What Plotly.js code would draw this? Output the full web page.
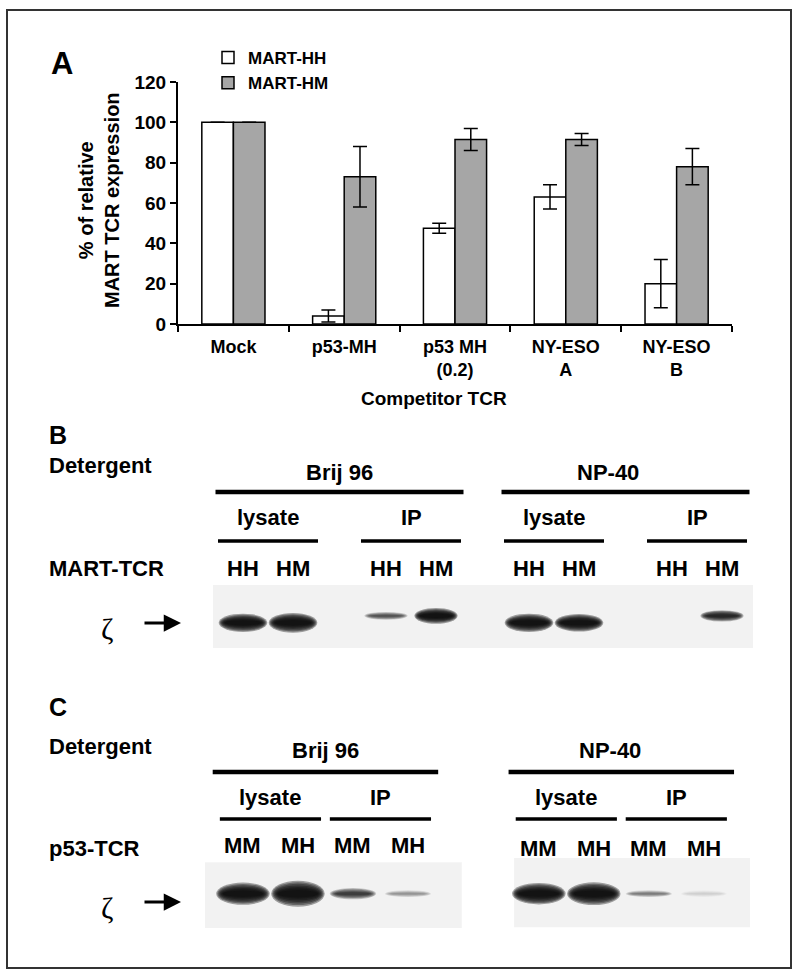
<!DOCTYPE html>
<html>
<head>
<meta charset="utf-8">
<script src="https://cdn.plot.ly/plotly-3.0.1.min.js"></script>
<style>html,body{margin:0;padding:0;background:#fff;}#chart{width:800px;height:974px;}</style>
</head>
<body>
<div id="chart"></div>
<script>
// ---------- Panel A data ----------
const categories = ['Mock', 'p53-MH', 'p53 MH<br>(0.2)', 'NY-ESO<br>A', 'NY-ESO<br>B'];
const martHH = [100, 4, 47.5, 63, 20];
const martHHErr = [0, 3, 2.5, 6, 12];
const martHM = [100, 73, 91.5, 91.5, 78];
const martHMErr = [0, 15, 5.5, 3, 9];
const seriesNames = ['MART-HH', 'MART-HM'];

// ---------- Panel B (MART-TCR blot) data ----------
const bDetergent = ['Brij 96', 'Brij 96', 'Brij 96', 'Brij 96', 'NP-40', 'NP-40', 'NP-40', 'NP-40'];
const bFraction = ['lysate', 'lysate', 'IP', 'IP', 'lysate', 'lysate', 'IP', 'IP'];
const bLanes = ['HH', 'HM', 'HH', 'HM', 'HH', 'HM', 'HH', 'HM'];
const bSignal = [0.92, 0.96, 0.55, 0.85, 0.92, 0.9, 0, 0.7];

// ---------- Panel C (p53-TCR blot) data ----------
const cDetergent = ['Brij 96', 'Brij 96', 'Brij 96', 'Brij 96', 'NP-40', 'NP-40', 'NP-40', 'NP-40'];
const cFraction = ['lysate', 'lysate', 'IP', 'IP', 'lysate', 'lysate', 'IP', 'IP'];
const cLanes = ['MM', 'MH', 'MM', 'MH', 'MM', 'MH', 'MM', 'MH'];
const cSignal = [0.92, 1.0, 0.62, 0.32, 0.9, 0.93, 0.4, 0.1];

// ---------- helpers ----------
const W = 800, H = 974;
const px = v => v / W;
const py = v => 1 - v / H;
const SANS = 'Liberation Sans, Arial, Helvetica, sans-serif';
const bold = (size) => ({family: SANS, size: size, color: '#000', weight: 'bold'});

const traces = [
  {
    type: 'bar', name: seriesNames[0], x: categories, y: martHH,
    marker: {color: '#ffffff', line: {color: '#000', width: 1.5}},
    error_y: {type: 'data', array: martHHErr, visible: true, color: '#000', thickness: 1.5, width: 7},
    xaxis: 'x', yaxis: 'y'
  },
  {
    type: 'bar', name: seriesNames[1], x: categories, y: martHM,
    marker: {color: '#a6a6a6', line: {color: '#000', width: 1.5}},
    error_y: {type: 'data', array: martHMErr, visible: true, color: '#000', thickness: 1.5, width: 7},
    xaxis: 'x', yaxis: 'y'
  }
];

const shapes = [];
const annotations = [];

// outer frame
shapes.push({type: 'rect', xref: 'paper', yref: 'paper', x0: px(7), x1: px(791), y0: py(968), y1: py(10),
  line: {color: '#333', width: 2}, fillcolor: 'rgba(0,0,0,0)', layer: 'below'});

// Panel letters
annotations.push({xref: 'paper', yref: 'paper', x: px(62), y: py(64), text: 'A', showarrow: false, font: bold(31), xanchor: 'center', yanchor: 'middle'});
annotations.push({xref: 'paper', yref: 'paper', x: px(58), y: py(435), text: 'B', showarrow: false, font: bold(25), xanchor: 'center', yanchor: 'middle'});
annotations.push({xref: 'paper', yref: 'paper', x: px(58), y: py(707), text: 'C', showarrow: false, font: bold(25), xanchor: 'center', yanchor: 'middle'});

// Panel A axis titles
annotations.push({xref: 'paper', yref: 'paper', x: px(99), y: py(200), textangle: -90,
  text: '% of relative<br>MART TCR expression', showarrow: false, font: bold(20),
  xanchor: 'center', yanchor: 'middle'});
annotations.push({xref: 'paper', yref: 'paper', x: px(434), y: py(398), text: 'Competitor TCR',
  showarrow: false, font: bold(19), xanchor: 'center', yanchor: 'middle'});

// ---------- blot drawing ----------
function laneXs(n, groupGap) {
  const xs = [];
  let x = 0;
  for (let i = 0; i < n; i++) {
    if (i > 0) x += 1 + groupGap(i);
    xs.push(x);
  }
  return xs;
}

function drawBlot(cfg) {
  const {xref, yref, xs, signal, fracs, dets, lanes, rowY, bandW, T, pxY, txt} = cfg;
  const N = 7;
  for (let i = 0; i < xs.length; i++) {
    const s = signal[i];
    if (s <= 0) continue;
    const D = Math.min(0.96, 1.25 * s);          // target darkness at band centre
    const thPx = Math.max(4, T * s * s);
    const yc = rowY(fracs[i]);
    const w = bandW(fracs[i]);
    const al = 1 - Math.pow(1 - D, 1 / N);
    for (let k = 0; k < N; k++) {
      const t = k / (N - 1);
      const kw = 1.08 - 0.28 * t;
      const th = (thPx * 1.2 + 2) * (1 - t) + thPx * 0.35 * t;
      const hw = w * kw / 2, hh = (th / pxY) / 2;
      shapes.push({type: 'circle', xref: xref, yref: yref,
        x0: xs[i] - hw, x1: xs[i] + hw, y0: yc - hh, y1: yc + hh,
        fillcolor: 'rgba(12,12,12,' + al.toFixed(3) + ')', line: {width: 0}});
    }
  }
  const uniq = arr => arr.filter((v, i) => arr.indexOf(v) === i);
  uniq(dets).forEach(d => {
    const idx = dets.map((v, i) => v === d ? i : -1).filter(i => i >= 0);
    const lo = Math.min(...idx.map(i => xs[i])), hi = Math.max(...idx.map(i => xs[i]));
    annotations.push({xref: xref, yref: 'paper', x: (lo + hi) / 2 + (txt.detShift[d] || 0), y: py(txt.yDet),
      text: d, showarrow: false, font: bold(22), xanchor: 'center', yanchor: 'middle'});
    shapes.push({type: 'line', xref: xref, yref: 'paper', x0: lo - txt.detHalf, x1: hi + txt.detHalf,
      y0: py(txt.yDetLine), y1: py(txt.yDetLine), line: {color: '#000', width: 4.5}});
    uniq(idx.map(i => fracs[i])).forEach(f => {
      const fi = idx.filter(i => fracs[i] === f);
      const flo = Math.min(...fi.map(i => xs[i])), fhi = Math.max(...fi.map(i => xs[i]));
      annotations.push({xref: xref, yref: 'paper', x: (flo + fhi) / 2, y: py(txt.yFrac),
        text: f, showarrow: false, font: bold(22), xanchor: 'center', yanchor: 'middle'});
      shapes.push({type: 'line', xref: xref, yref: 'paper', x0: flo - txt.fracHalf, x1: fhi + txt.fracHalf,
        y0: py(txt.yFracLine), y1: py(txt.yFracLine), line: {color: '#000', width: 3.5}});
    });
  });
  for (let i = 0; i < xs.length; i++) {
    annotations.push({xref: xref, yref: 'paper', x: xs[i], y: py(txt.yLane(i)),
      text: lanes[i], showarrow: false, font: bold(22), xanchor: 'center', yanchor: 'middle'});
  }
}

const bXs = laneXs(bLanes.length, i => (bFraction[i] !== bFraction[i - 1] || bDetergent[i] !== bDetergent[i - 1]) ? 0.86 : 0);
const cXs = laneXs(cLanes.length, i => (cDetergent[i] !== cDetergent[i - 1]) ? 1.38 : 0);

// blot backgrounds
shapes.push({type: 'rect', xref: 'x2 domain', yref: 'y2 domain', x0: 0, x1: 1, y0: 0, y1: 1,
  fillcolor: 'rgba(0,0,0,0.05)', line: {width: 0}, layer: 'below'});
shapes.push({type: 'rect', xref: 'x3', yref: 'y3', x0: cXs[0] - 0.69, x1: cXs[3] + 0.98, y0: 0, y1: 0.94,
  fillcolor: 'rgba(0,0,0,0.05)', line: {width: 0}, layer: 'below'});
shapes.push({type: 'rect', xref: 'x3', yref: 'y3', x0: cXs[4] - 0.45, x1: cXs[7] + 0.84, y0: 0.01, y1: 1,
  fillcolor: 'rgba(0,0,0,0.05)', line: {width: 0}, layer: 'below'});

drawBlot({xref: 'x2', yref: 'y2', xs: bXs, signal: bSignal, fracs: bFraction, dets: bDetergent, lanes: bLanes,
  rowY: f => f === 'lysate' ? 0.40 : 0.51, bandW: f => f === 'lysate' ? 0.9 : 0.8, T: 16, pxY: 63,
  txt: {yDet: 472, yDetLine: 492, yFrac: 517, yFracLine: 541, yLane: () => 568, detHalf: 0.55, fracHalf: 0.5,
        detShift: {'NP-40': -0.36}}});
drawBlot({xref: 'x3', yref: 'y3', xs: cXs, signal: cSignal, fracs: cFraction, dets: cDetergent, lanes: cLanes,
  rowY: f => 0.49, bandW: f => f === 'lysate' ? 0.9 : 0.78, T: 20, pxY: 70,
  txt: {yDet: 750, yDetLine: 772, yFrac: 797, yFracLine: 819, yLane: i => i < 4 ? 845 : 848, detHalf: 0.55, fracHalf: 0.42,
        detShift: {'NP-40': -0.2}}});

// row labels
[['Detergent', 466], ['MART-TCR', 568], ['Detergent', 746], ['p53-TCR', 848]].forEach(([t, y]) => {
  annotations.push({xref: 'paper', yref: 'paper', x: px(47), y: py(y), text: t, showarrow: false,
    font: bold(22), xanchor: 'left', yanchor: 'middle'});
});
// zeta + arrows
[[628, 623], [907, 902]].forEach(([yz, ya]) => {
  annotations.push({xref: 'paper', yref: 'paper', x: px(107), y: py(yz), text: 'ζ', showarrow: false,
    font: {family: 'Liberation Serif, DejaVu Serif, serif', size: 30, color: '#000'}, xanchor: 'center', yanchor: 'middle'});
  annotations.push({xref: 'paper', yref: 'paper', x: px(181), y: py(ya), text: '', showarrow: true,
    ax: -38, ay: 0, arrowhead: 2, arrowsize: 1.15, arrowwidth: 3, arrowcolor: '#000'});
});

const layout = {
  width: W, height: H,
  margin: {l: 0, r: 0, t: 0, b: 0},
  paper_bgcolor: '#fff', plot_bgcolor: 'rgba(0,0,0,0)',
  barmode: 'group', bargap: 0.43, bargroupgap: 0,
  showlegend: true,
  legend: {x: px(208), y: py(40), xanchor: 'left', yanchor: 'top', bgcolor: 'rgba(0,0,0,0)',
    font: bold(17), tracegroupgap: 0, itemwidth: 30},
  xaxis: {domain: [px(178), px(732)], anchor: 'y', type: 'category', range: [-0.5, 4.5],
    showline: true, linecolor: '#000', linewidth: 2, ticks: 'outside', tickson: 'boundaries',
    ticklen: 6, tickwidth: 2, tickcolor: '#000', tickfont: bold(18), ticklabelstandoff: 5,
    showgrid: false, zeroline: false, fixedrange: true},
  yaxis: {domain: [py(324), py(82)], anchor: 'x', range: [0, 120], dtick: 20, tick0: 0,
    showline: true, linecolor: '#000', linewidth: 2, ticks: 'outside', ticklen: 6, tickwidth: 2,
    tickcolor: '#000', tickfont: bold(19), showgrid: false, zeroline: false, fixedrange: true},
  xaxis2: {domain: [px(213), px(753)], anchor: 'y2', range: [-0.6, 10.2], visible: false, fixedrange: true},
  yaxis2: {domain: [py(648), py(585)], anchor: 'x2', range: [0, 1], visible: false, fixedrange: true},
  xaxis3: {domain: [px(205), px(750)], anchor: 'y3', range: [-0.69, 9.22], visible: false, fixedrange: true},
  yaxis3: {domain: [py(928), py(858)], anchor: 'x3', range: [0, 1], visible: false, fixedrange: true},
  shapes: shapes,
  annotations: annotations
};

Plotly.newPlot('chart', traces, layout, {displayModeBar: false, staticPlot: true});
</script>
</body>
</html>
